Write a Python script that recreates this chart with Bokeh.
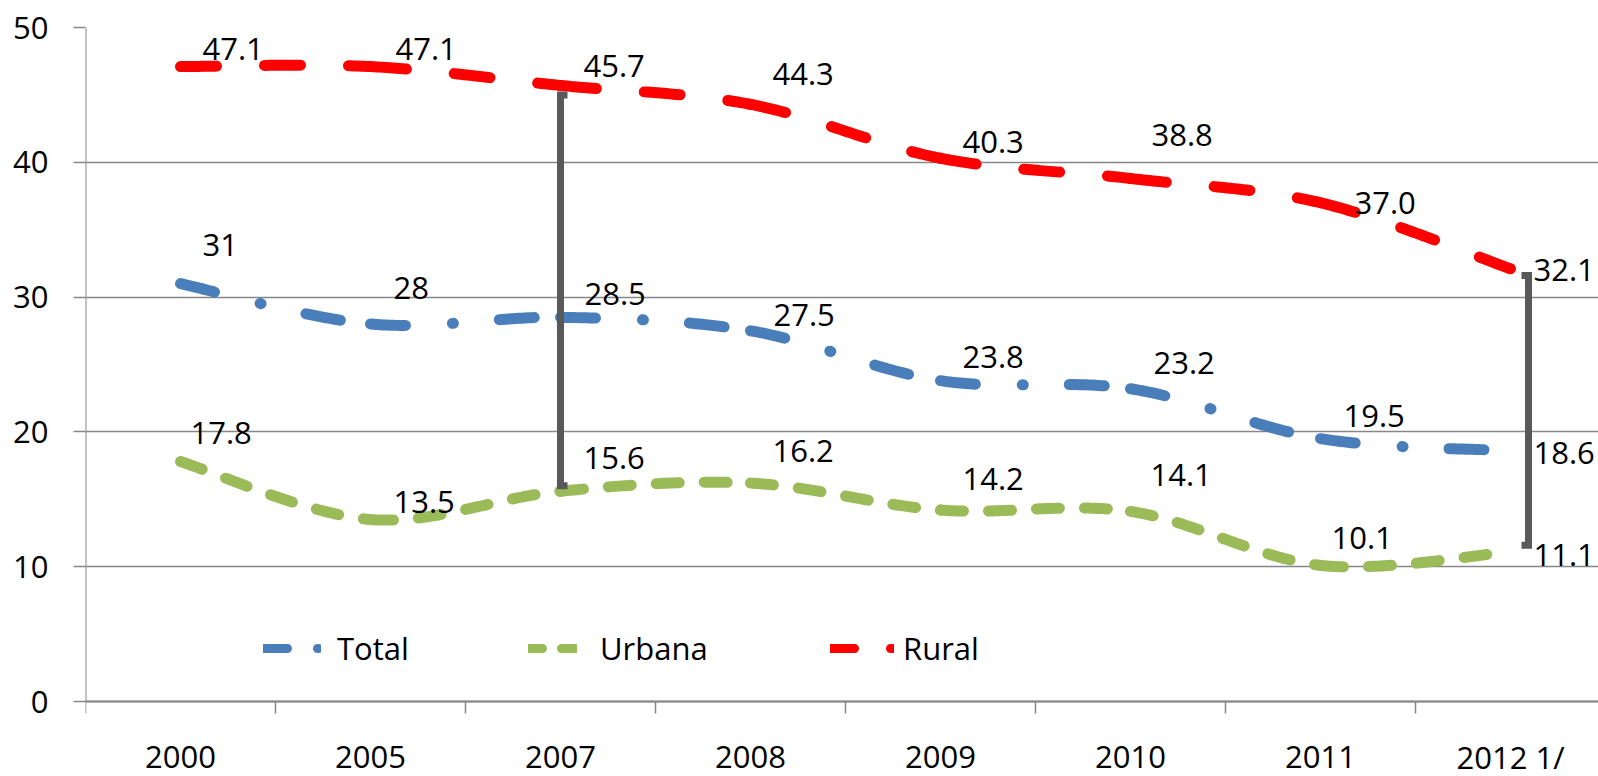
import numpy as np
from bokeh.plotting import figure
from bokeh.models import Range1d, FixedTicker, ColumnDataSource, Legend, LegendItem
from bokeh.core.properties import value
from bokeh.embed import file_html
from bokeh.resources import INLINE

# ---------------- data ----------------
categories = ["2000", "2005", "2007", "2008", "2009", "2010", "2011", "2012 1/"]
total = [31, 28, 28.5, 27.5, 23.8, 23.2, 19.5, 18.6]
urbana = [17.8, 13.5, 15.6, 16.2, 14.2, 14.1, 10.1, 11.1]
rural = [47.1, 47.1, 45.7, 44.3, 40.3, 38.8, 37.0, 32.1]
total_labels = ["31", "28", "28.5", "27.5", "23.8", "23.2", "19.5", "18.6"]
urbana_labels = ["17.8", "13.5", "15.6", "16.2", "14.2", "14.1", "10.1", "11.1"]
rural_labels = ["47.1", "47.1", "45.7", "44.3", "40.3", "38.8", "37.0", "32.1"]
y_ticks = [0, 10, 20, 30, 40, 50]

# bracket annotations (category index, top value, bottom value)
bracket_cat = [2, 7]
bracket_top = [45.0, 31.6]
bracket_bottom = [16.0, 11.6]

# label offsets in screen px (dx right, dy down)
rural_dx = [22, 25, 23, 22, 22, 21, 34, 23]
rural_dy = [-18, -18, -19, -30, -16, -43, 0, 1]
total_dx = [22, 23, 24, 23, 22, 23, 23, 23]
total_dy = [-39, -36, -23, -16, -24, -26, -23, 2]
urbana_dx = [10, 23, 23, 22, 22, 20, 11, 23]
urbana_dy = [-29, -18, -33, -32, -31, -36, -27, 3]

FONT = "Open Sans"
FS = "31px"
CAT_PX = 190.0
W, H = 1598, 776
LEFT, TOP = 85, 27
PX_PER_UNIT = 674.0 / 50.0          # value axis scale (0 at y=701, 50 at y=27)
y_start = 50 - (H - TOP) / PX_PER_UNIT
x_end = -0.5 + (W - LEFT) / CAT_PX

p = figure(width=W, height=H, output_backend="svg", toolbar_location=None,
           x_range=Range1d(-0.5, x_end), y_range=Range1d(y_start, 50),
           min_border_left=LEFT, min_border_right=0, min_border_top=TOP,
           min_border_bottom=0)
p.outline_line_color = None
p.background_fill_color = "white"
p.border_fill_color = "white"

GRAY = "#878787"
# y axis (ticks + labels); its line is drawn only over 0..50
p.yaxis.ticker = FixedTicker(ticks=y_ticks)
p.yaxis.major_tick_out = 12
p.yaxis.major_tick_in = 0
p.yaxis.minor_tick_line_color = None
p.yaxis.major_tick_line_color = GRAY
p.yaxis.major_tick_line_width = 1.5
p.yaxis.axis_line_color = None
p.yaxis.major_label_text_font = FONT
p.yaxis.major_label_text_font_size = FS
p.yaxis.major_label_text_color = "black"
p.yaxis.major_label_standoff = 25
p.xaxis.visible = False

p.xgrid.grid_line_color = None
p.ygrid.ticker = FixedTicker(ticks=y_ticks)
p.ygrid.grid_line_color = GRAY
p.ygrid.grid_line_width = 1.5

idx = list(range(len(categories)))

# value axis line
p.segment(x0=[-0.5], y0=[y_ticks[0]], x1=[-0.5], y1=[y_ticks[-1]],
          line_color=GRAY, line_width=2)
# category axis: baseline at 0 plus boundary ticks
p.segment(x0=[-0.5], y0=[0], x1=[x_end], y1=[0], line_color=GRAY, line_width=2)
bounds = [i - 0.5 for i in range(len(categories) + 1)]
p.ray(x=bounds, y=[0] * len(bounds), length=12, length_units="screen",
      angle=-np.pi / 2, line_color=GRAY, line_width=1.5)
# category labels
cat_src = ColumnDataSource(dict(x=idx, y=[0] * len(idx), t=categories))
p.text(x="x", y="y", text="t", source=cat_src, y_offset=55,
       text_font=value(FONT), text_font_size=FS, text_color="black",
       text_align="center", text_baseline="middle")


def smooth_segments(xs, ys, n=60):
    P = np.column_stack([np.asarray(xs, float), np.asarray(ys, float)])
    out_x, out_y = [], []
    t = np.linspace(0, 1, n)[:, None]
    for i in range(len(P) - 1):
        p0 = P[i - 1] if i > 0 else P[i]
        p1, p2 = P[i], P[i + 1]
        p3 = P[i + 2] if i + 2 < len(P) else P[i + 1]
        c1 = p1 + (p2 - p0) / 6.0
        c2 = p2 - (p3 - p1) / 6.0
        B = (1 - t) ** 3 * p1 + 3 * (1 - t) ** 2 * t * c1 + 3 * (1 - t) * t ** 2 * c2 + t ** 3 * p2
        out_x.append(B[:, 0].tolist())
        out_y.append(B[:, 1].tolist())
    return out_x, out_y


series = [
    ("Total", total, "#4A7EBB", "35 47 1 46", total_labels, total_dx, total_dy),
    ("Urbana", urbana, "#9BBB59", "23 25", urbana_labels, urbana_dx, urbana_dy),
    ("Rural", rural, "#FF0000", "36 48", rural_labels, rural_dx, rural_dy),
]

for name, vals, color, dash, labs, dxs, dys in series:
    sx, sy = smooth_segments(idx, vals)
    p.multi_line(xs=sx, ys=sy, line_color=color, line_width=11, line_dash=dash,
                 line_cap="round", line_join="round")

# brackets
bracket_shift_px = [0, 18]
cap_dir = [1, -1]
bx, by = [], []
for c, top, bot, sh, d in zip(bracket_cat, bracket_top, bracket_bottom, bracket_shift_px, cap_dir):
    x0 = c + sh / CAT_PX
    x1 = x0 + d * 7 / CAT_PX
    bx.append([x1, x0, x0, x1])
    by.append([top, top, bot, bot])
p.multi_line(xs=bx, ys=by, line_color="#595959", line_width=7, line_join="miter", line_cap="butt")

# data labels
for name, vals, color, dash, labs, dxs, dys in series:
    src = ColumnDataSource(dict(x=idx, y=vals, t=labs, dx=dxs, dy=dys))
    p.text(x="x", y="y", text="t", x_offset="dx", y_offset="dy", source=src,
           text_font=value(FONT), text_font_size=FS, text_color="black",
           text_align="left", text_baseline="middle")

# legend (separate dummy renderers with sample dash patterns)
leg_specs = [
    ("Total", "#4A7EBB", "24 30 1 100", 58, 178, 16),
    ("Urbana", "#9BBB59", "14 19", 49, 443, 23),
    ("Rural", "#FF0000", "24 36 4 60", 64, 745, 9),
]
for name, color, dash, gw, lx, so in leg_specs:
    r = p.line(x=[np.nan, np.nan], y=[np.nan, np.nan], line_color=color, line_width=9,
               line_dash=dash, line_cap="round")
    lg = Legend(items=[LegendItem(label=name, renderers=[r])], location=(lx, 107),
                orientation="horizontal", glyph_width=gw, glyph_height=30,
                label_standoff=so, padding=0, margin=0, spacing=0,
                label_text_font=FONT, label_text_font_size=FS, label_text_color="black",
                label_height=30, background_fill_alpha=0, border_line_alpha=0)
    p.add_layout(lg, "center")

open("out.html", "w").write(file_html(p, INLINE))
